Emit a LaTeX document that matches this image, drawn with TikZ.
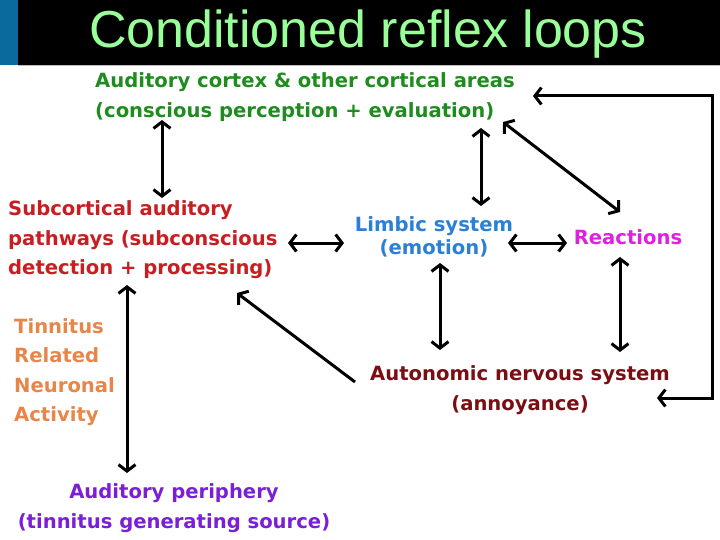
\documentclass[tikz,border=0pt]{standalone}
\usepackage{fontspec}
\setmainfont{DejaVu Sans}
\newfontfamily\titlefont{Liberation Sans}
\usetikzlibrary{arrows.meta}
\definecolor{titlegreen}{HTML}{99FF99}
\definecolor{stripblue}{HTML}{0A6A9E}
\definecolor{cortexgreen}{HTML}{1E8C1E}
\definecolor{subred}{HTML}{C81E22}
\definecolor{limbicblue}{HTML}{2B7FD4}
\definecolor{reactmagenta}{HTML}{E020E0}
\definecolor{tinnorange}{HTML}{E8864A}
\definecolor{autored}{HTML}{7A0E12}
\definecolor{periphpurple}{HTML}{7A1FD6}

\begin{document}
\begin{tikzpicture}[
		x=1pt, y=-1pt,
		boxtext/.style={font=\bfseries\fontsize{19.6}{29.5}\selectfont, inner sep=0pt},
		barb/.tip={Straight Barb[length=6.5pt, width=17pt]},
		dblarrow/.style={barb-barb, line width=3pt},
		onearrow/.style={-barb, line width=3pt}
		]
		
		\useasboundingbox (0,0) rectangle (720,540);
		
		% ==========================================
		% Title bar
		% ==========================================
		\fill[black] (0,0) rectangle (720,65);
		\fill[stripblue] (0,0) rectangle (18,65);
		\draw[black!25, line width=1pt] (18,66) -- (720,66);
		\node[anchor=base, text=titlegreen, font=\titlefont\fontsize{52}{52}\selectfont] (title) at (368,48) {Conditioned reflex loops};
		
		% ==========================================
		% Stations of the loop
		% ==========================================
		\node[boxtext, text=cortexgreen, align=left, anchor=west] (cortex) at (95,97) {Auditory cortex \& other cortical areas\\(conscious perception + evaluation)};
		\node[boxtext, text=subred, align=left, anchor=west] (subcort) at (8,240) {Subcortical auditory\\pathways (subconscious\\detection + processing)};
		\node[boxtext, text=limbicblue, align=center, font=\bfseries\fontsize{19.6}{23}\selectfont] (limbic) at (434,237) {Limbic system\\(emotion)};
		\node[boxtext, text=reactmagenta] (reactions) at (628,237) {Reactions};
		\node[boxtext, text=tinnorange, align=left, anchor=west] (tinnitus) at (14,372) {Tinnitus\\Related\\Neuronal\\Activity};
		\node[boxtext, text=autored, align=center] (autonomic) at (520,390) {Autonomic nervous system\\(annoyance)};
		\node[boxtext, text=periphpurple, align=center] (periphery) at (174,508) {Auditory periphery\\(tinnitus generating source)};
		
		% ==========================================
		% Connections
		% ==========================================
		\draw[dblarrow] ([shift={(67,23)}]cortex.west) -- ([shift={(154,-42)}]subcort.west);
		\draw[dblarrow] ([shift={(386,31)}]cortex.west) -- ([shift={(47,-31)}]limbic.center);
		\draw[dblarrow] ([shift={(408,25)}]cortex.west) -- ([shift={(-8,-25)}]reactions.center);
		\draw[dblarrow] ([shift={(280,3)}]subcort.west) -- ([shift={(-90,6)}]limbic.center);
		\draw[dblarrow] ([shift={(74,6)}]limbic.center) -- ([shift={(-61,6)}]reactions.center);
		\draw[dblarrow] ([shift={(6,26)}]limbic.center) -- ([shift={(-80,-40)}]autonomic.center);
		\draw[dblarrow] ([shift={(-8,20)}]reactions.center) -- ([shift={(100,-38)}]autonomic.center);
		\draw[onearrow] ([shift={(-165,-8)}]autonomic.center) -- ([shift={(229,53)}]subcort.west);
		\draw[dblarrow] ([shift={(119,45)}]subcort.west) -- ([shift={(-47,-35)}]periphery.center);
		
		% feedback from the autonomic system back to the cortex
		\draw[dblarrow] ([shift={(137,8)}]autonomic.center) -- ++(55,0) |- ([shift={(438,-1)}]cortex.west);
		
	\end{tikzpicture}
\end{document}
